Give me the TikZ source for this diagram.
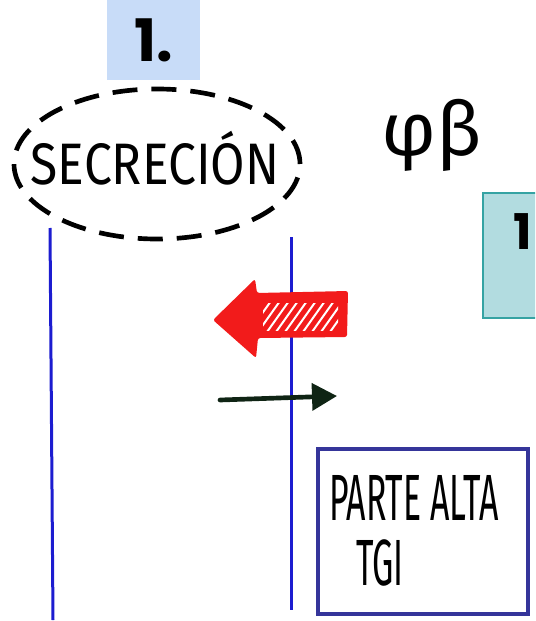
\documentclass[tikz,border=0pt]{standalone}
\usepackage{fontspec}
\setmainfont{Fira Sans}
\newfontfamily\numfont{Poppins}
\usetikzlibrary{arrows.meta, shapes.geometric, positioning}
\definecolor{tagblue}{HTML}{C8DCF8}
\definecolor{tealfill}{HTML}{B2DCE0}
\definecolor{tealedge}{HTML}{35A3A3}
\definecolor{lineblue}{HTML}{1C1CD0}
\definecolor{boxblue}{HTML}{35359A}
\definecolor{arrowred}{HTML}{F21B1B}
\definecolor{inkgreen}{HTML}{0F2414}

\begin{document}
\begin{tikzpicture}[x=0.03cm, y=-0.03cm,
    tag/.style={rectangle, fill=tagblue, minimum width=2.79cm, minimum height=2.4cm, font=\numfont\bfseries\fontsize{50}{52}\selectfont},
    ring/.style={ellipse, draw, dash pattern=on 0.75cm off 0.42cm, line width=0.14cm, minimum width=8.58cm, minimum height=4.5cm, inner sep=0pt},
    scrawl/.style={font=\fontsize{#1}{#1}\selectfont},
    panel/.style={rectangle, draw=tealedge, fill=tealfill, line width=0.06cm, minimum width=2.82cm, minimum height=3.75cm},
    membrane/.style={lineblue, line width=0.09cm},
    partbox/.style={rectangle, draw=boxblue, line width=0.12cm, minimum width=6.3cm, minimum height=4.95cm},
]
    \useasboundingbox (0,0) rectangle (535,621);
    \clip (0,0) rectangle (535,621);
    % Step tag
    \node[tag] (tag) at (153.5,40) {1.};
    % Secretion bubble
    \node[ring] (ring) at (157,164) {};
    \node[scrawl=37] (secr) at (155,158) {\scalebox{1.15}[1.35]{SECRECIÓN}};
    \node[scrawl=64] (greek) at (432,135) {φβ};
    % Side panel, cut at the edge
    \node[panel] (panel) at (530,255.5) {};
    \node[font=\numfont\bfseries\fontsize{42}{44}\selectfont] (panelnum) at (523,232) {1};
    % Membranes
    \coordinate (lefttop) at (50,228);
    \coordinate (leftbot) at (53,620);
    \coordinate (righttop) at (291,237);
    \coordinate (rightbot) at (291,610);
    \draw[membrane] (lefttop) -- (leftbot);
    \draw[membrane] (righttop) -- (rightbot);
    % Fat red arrow with hatched shaft
    \fill[arrowred, rounded corners=2pt] (213,320) -- (255,279) -- (257,293) -- (348,291)
        -- (347,337) -- (258,338) -- (256,358) -- cycle;
    \begin{scope}
        \clip (263,303) rectangle (338,330);
        \foreach \s in {240,249,...,340} {
            \draw[white, line width=0.06cm] (\s,332) -- (\s+22,301);
        }
    \end{scope}
    % Thin dark arrow
    \coordinate (outstart) at (220,400);
    \coordinate (outend) at (337,396);
    \draw[inkgreen, line width=0.14cm, line cap=round, -{Triangle[length=0.75cm, width=0.8cm]}] (outstart) -- (outend);
    % Target box
    \node[partbox] (upper) at (423,531.5) {};
    \node[scrawl=31, anchor=base west] (upperA) at (325,520) {\scalebox{0.93}[1.8]{PARTE ALTA}};
    \node[scrawl=31, anchor=base west] (upperB) at (352,585) {\scalebox{0.93}[1.8]{TGI}};
\end{tikzpicture}
\end{document}
